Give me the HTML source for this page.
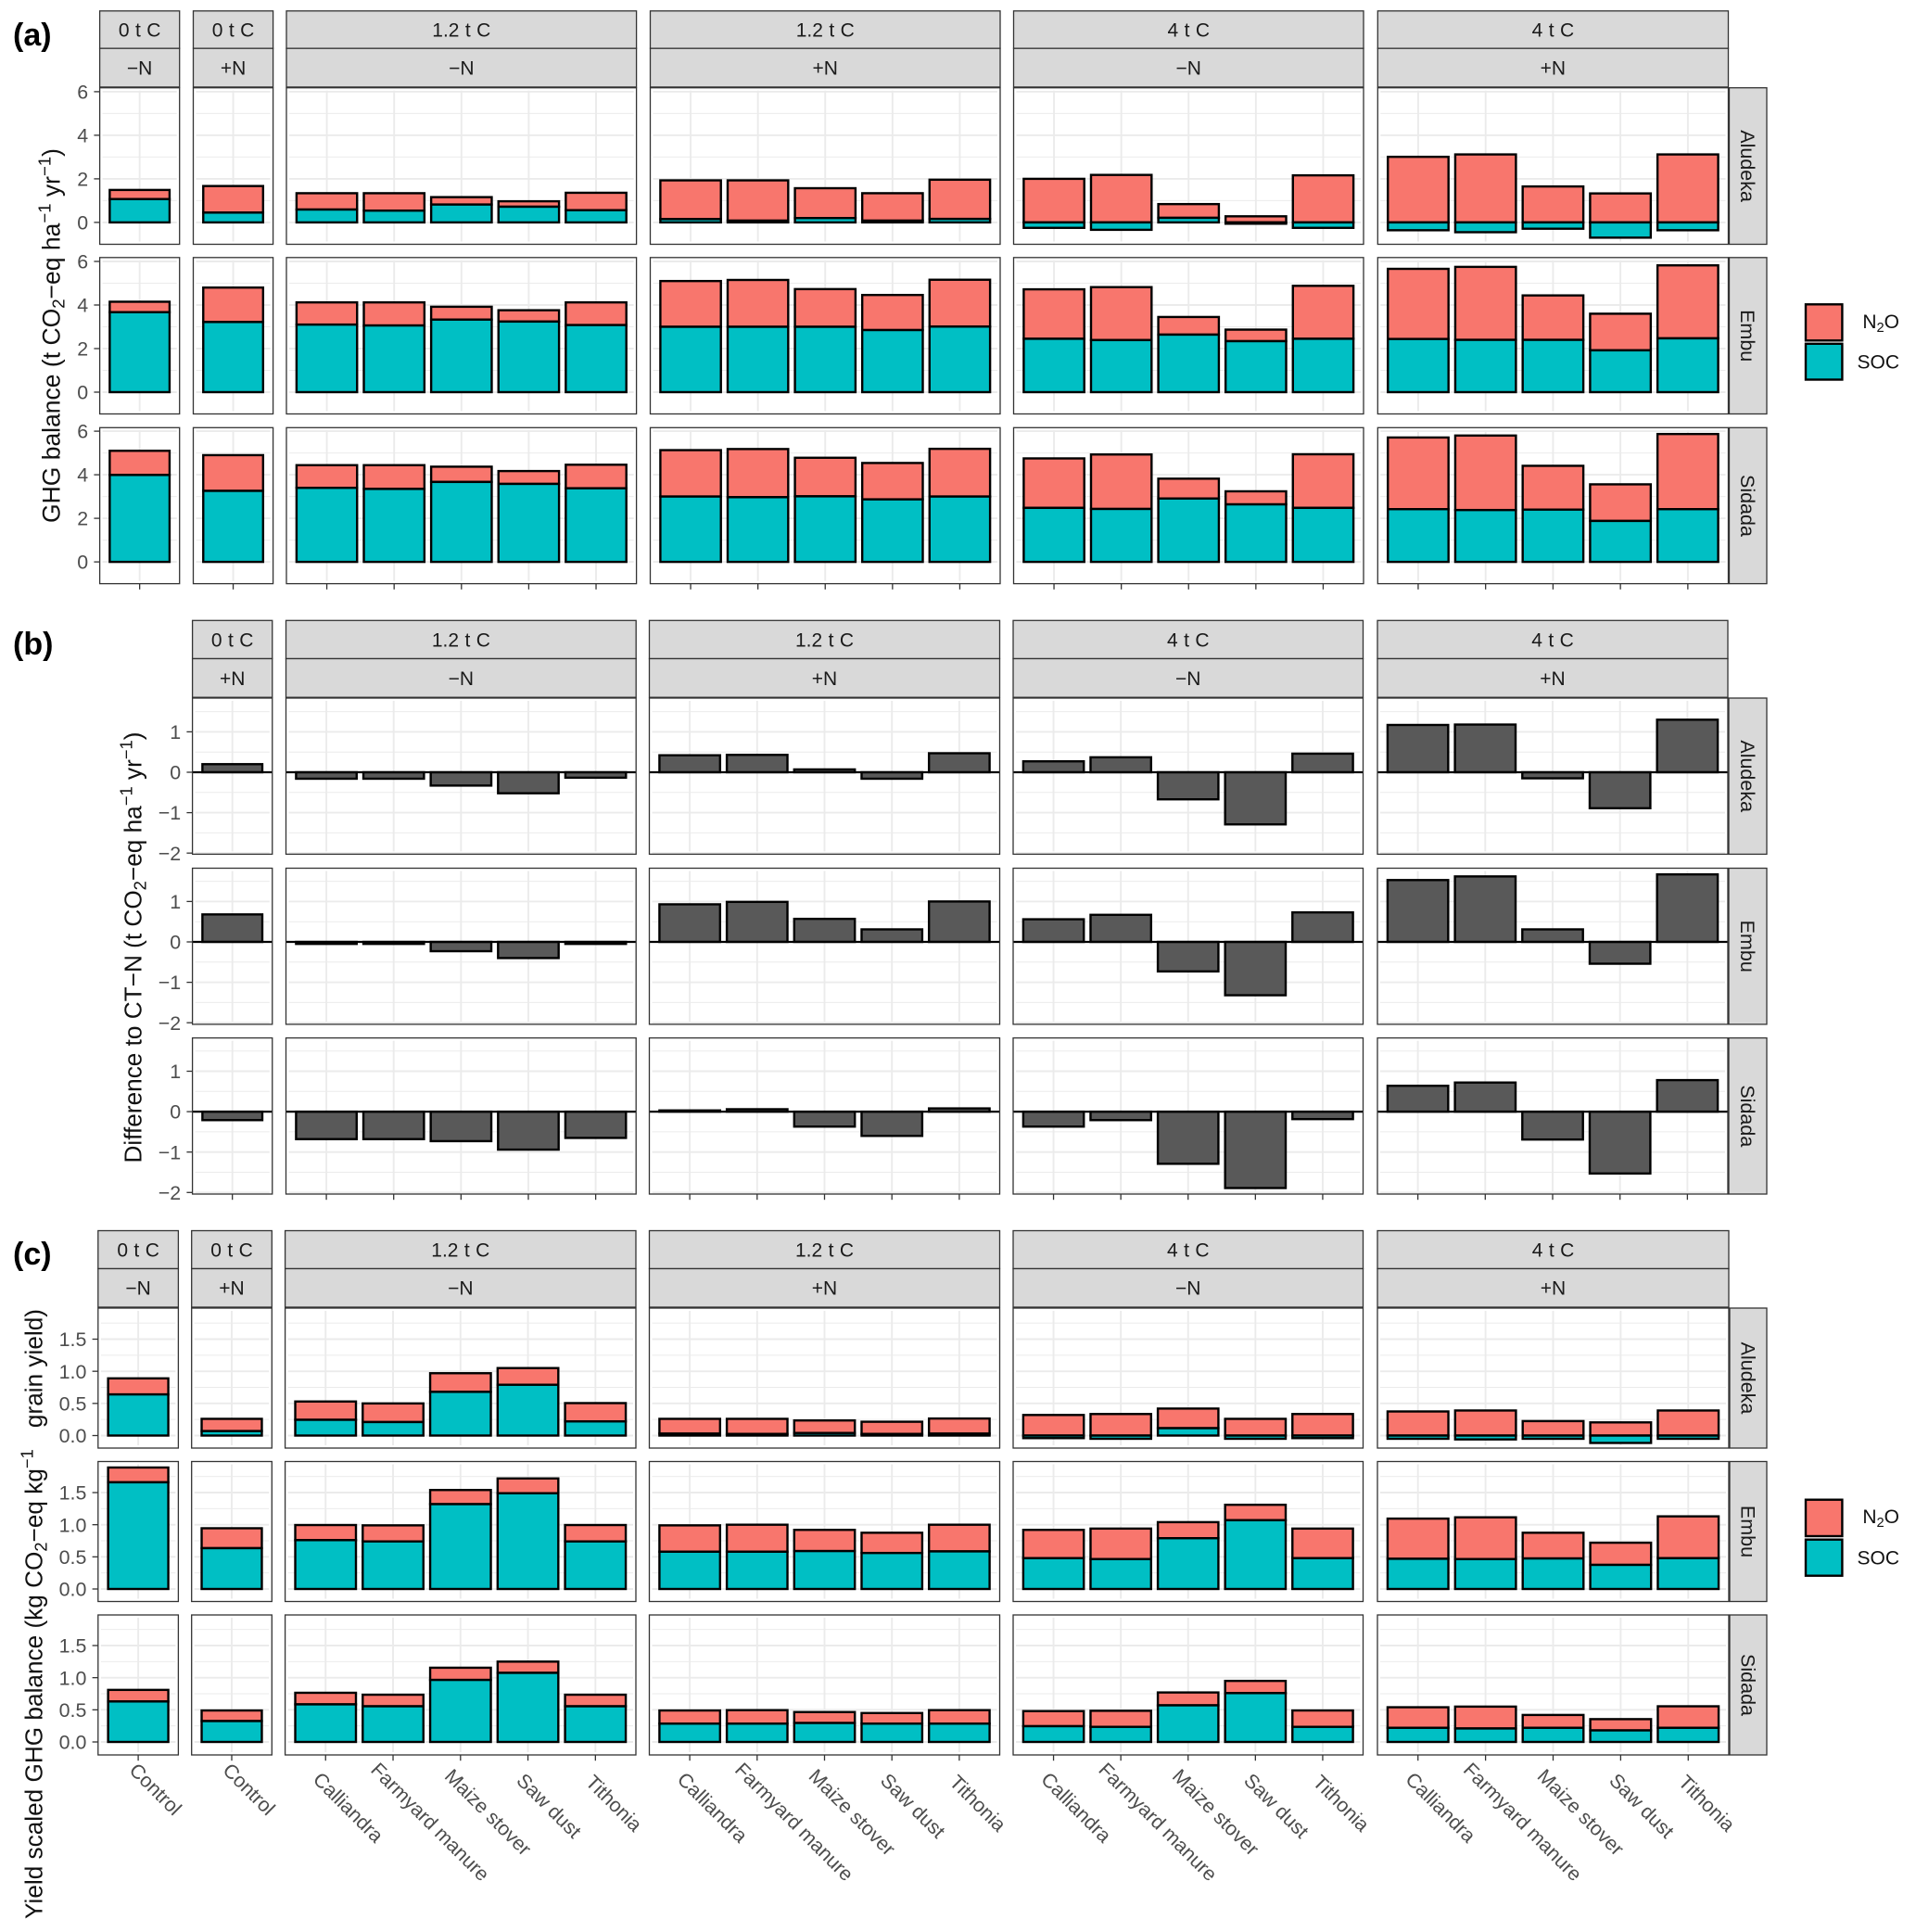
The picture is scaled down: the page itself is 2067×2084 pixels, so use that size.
<!DOCTYPE html>
<html lang="en">
<head>
<meta charset="utf-8">
<title>GHG balance by site, carbon input and nitrogen treatment</title>
<style>
html,body{margin:0;padding:0;background:#fff;}
svg{display:block;font-family:"Liberation Sans",Arial,sans-serif;}
</style>
</head>
<body>
<svg id="chart" xmlns="http://www.w3.org/2000/svg" width="2067" height="2084" viewBox="0 0 2067 2084">
  <rect x="0" y="0" width="2067" height="2084" fill="#fff"/>
  <g id="plots"></g>

  <text x="14" y="49" font-size="34" font-weight="bold" fill="#000">(a)</text>
  <text x="14" y="706" font-size="34" font-weight="bold" fill="#000">(b)</text>
  <text x="14" y="1364" font-size="34" font-weight="bold" fill="#000">(c)</text>

  <text transform="translate(64.6,362) rotate(-90)" text-anchor="middle" font-size="26.5" fill="#111">GHG balance (t CO<tspan font-size="18.6" dy="5">2</tspan><tspan dy="-5">−eq ha</tspan><tspan font-size="18.6" dy="-10">−1</tspan><tspan dy="10"> yr</tspan><tspan font-size="18.6" dy="-10">−1</tspan><tspan dy="10">)</tspan></text>
  <text transform="translate(152.5,1022) rotate(-90)" text-anchor="middle" font-size="26.2" fill="#111">Difference to CT−N (t CO<tspan font-size="18.4" dy="5">2</tspan><tspan dy="-5">−eq ha</tspan><tspan font-size="18.4" dy="-10">−1</tspan><tspan dy="10"> yr</tspan><tspan font-size="18.4" dy="-10">−1</tspan><tspan dy="10">)</tspan></text>
  <text transform="translate(45.6,2070) rotate(-90)" font-size="26.2" fill="#111">Yield scaled GHG balance (kg CO<tspan font-size="18.3" dy="5">2</tspan><tspan dy="-5">−eq kg</tspan><tspan font-size="18.3" dy="-10">−1</tspan></text>
  <text transform="translate(45.6,1412) rotate(-90)" text-anchor="end" font-size="26.2" fill="#111">grain yield)</text>

  <g>
    <rect x="1948" y="328.3" width="39.4" height="39" fill="#F8766D" stroke="#000" stroke-width="2.4"/>
    <rect x="1948" y="370.8" width="39.4" height="38.7" fill="#00BFC4" stroke="#000" stroke-width="2.4"/>
    <text x="2049" y="354" text-anchor="end" font-size="21" fill="#111">N<tspan font-size="14.7" dy="4">2</tspan><tspan dy="-4">O</tspan></text>
    <text x="2049" y="397.5" text-anchor="end" font-size="21" fill="#111">SOC</text>
  </g>
  <g>
    <rect x="1948" y="1617.7" width="39.4" height="39.3" fill="#F8766D" stroke="#000" stroke-width="2.4"/>
    <rect x="1948" y="1660.7" width="39.4" height="39" fill="#00BFC4" stroke="#000" stroke-width="2.4"/>
    <text x="2049" y="1643" text-anchor="end" font-size="21" fill="#111">N<tspan font-size="14.7" dy="4">2</tspan><tspan dy="-4">O</tspan></text>
    <text x="2049" y="1687.5" text-anchor="end" font-size="21" fill="#111">SOC</text>
  </g>
</svg>

<script>
// ---------- categories and labels ----------
const sites = ['Aludeka', 'Embu', 'Sidada'];
const carbonLevels = ['0 t C', '0 t C', '1.2 t C', '1.2 t C', '4 t C', '4 t C'];
const nitrogenLevels = ['−N', '+N', '−N', '+N', '−N', '+N'];
const controlCategories = ['Control'];
const amendmentCategories = ['Calliandra', 'Farmyard manure', 'Maize stover', 'Saw dust', 'Tithonia'];

// ---------- axis ticks ----------
const ghgTicks = [0, 2, 4, 6];
const ghgTickLabels = ['0', '2', '4', '6'];
const ghgMinorTicks = [1, 3, 5];
const diffTicks = [-2, -1, 0, 1];
const diffTickLabels = ['−2', '−1', '0', '1'];
const diffMinorTicks = [-1.5, -0.5, 0.5, 1.5];
const yieldTicks = [0, 0.5, 1, 1.5];
const yieldTickLabels = ['0.0', '0.5', '1.0', '1.5'];
const yieldMinorTicks = [0.25, 0.75, 1.25, 1.75];

// ---------- (a) GHG balance: 2 controls, then 4 groups of 5 amendments ----------
const ghgSocAludeka = [1.07,0.45, 0.59,0.54,0.82,0.72,0.56, 0.15,0.08,0.2,0.08,0.16, -0.25,-0.34,0.21,-0.06,-0.25, -0.36,-0.45,-0.29,-0.7,-0.36];
const ghgN2oAludeka = [0.42,1.22, 0.75,0.8,0.34,0.25,0.8, 1.78,1.85,1.37,1.26,1.8, 2.0,2.18,0.63,0.28,2.16, 3.01,3.12,1.65,1.33,3.12];
const ghgSocEmbu = [3.67,3.22, 3.1,3.06,3.33,3.24,3.08, 3.0,3.0,3.0,2.85,3.01, 2.45,2.39,2.64,2.34,2.45, 2.44,2.4,2.4,1.92,2.47];
const ghgN2oEmbu = [0.48,1.58, 1.02,1.06,0.59,0.52,1.04, 2.1,2.15,1.73,1.61,2.15, 2.27,2.43,0.81,0.53,2.43, 3.22,3.35,2.04,1.68,3.35];
const ghgSocSidada = [3.99,3.26, 3.4,3.35,3.67,3.58,3.38, 3.0,2.97,3.01,2.87,3.0, 2.48,2.43,2.91,2.64,2.48, 2.42,2.38,2.4,1.88,2.42];
const ghgN2oSidada = [1.11,1.64, 1.04,1.09,0.7,0.59,1.08, 2.13,2.21,1.77,1.67,2.19, 2.27,2.5,0.91,0.6,2.46, 3.29,3.42,2.01,1.68,3.45];

// ---------- (b) Difference to CT-N: 1 control, then 4 groups of 5 amendments ----------
const diffAludeka = [0.2, -0.16,-0.16,-0.33,-0.52,-0.135, 0.42,0.43,0.07,-0.16,0.47, 0.27,0.37,-0.67,-1.29,0.46, 1.17,1.18,-0.15,-0.89,1.3];
const diffEmbu = [0.68, -0.05,-0.05,-0.23,-0.4,-0.05, 0.93,0.99,0.57,0.31,1.0, 0.56,0.67,-0.73,-1.32,0.73, 1.53,1.62,0.31,-0.54,1.67];
const diffSidada = [-0.21, -0.68,-0.68,-0.73,-0.94,-0.65, 0.03,0.06,-0.37,-0.6,0.08, -0.37,-0.21,-1.29,-1.89,-0.185, 0.64,0.72,-0.69,-1.53,0.78];

// ---------- (c) Yield scaled GHG balance ----------
const yieldSocAludeka = [0.64,0.07, 0.245,0.21,0.68,0.79,0.22, 0.03,0.025,0.04,0.025,0.03, -0.04,-0.05,0.115,-0.05,-0.04, -0.05,-0.06,-0.05,-0.115,-0.05];
const yieldN2oAludeka = [0.25,0.19, 0.285,0.29,0.29,0.26,0.285, 0.23,0.235,0.195,0.19,0.235, 0.32,0.335,0.305,0.26,0.335, 0.375,0.39,0.225,0.205,0.39];
const yieldSocEmbu = [1.66,0.635, 0.76,0.74,1.32,1.49,0.74, 0.58,0.58,0.59,0.56,0.585, 0.48,0.465,0.79,1.07,0.48, 0.47,0.465,0.475,0.375,0.48];
const yieldN2oEmbu = [0.23,0.31, 0.235,0.25,0.22,0.23,0.255, 0.41,0.42,0.33,0.315,0.415, 0.44,0.475,0.25,0.24,0.46, 0.625,0.65,0.4,0.345,0.65];
const yieldSocSidada = [0.63,0.325, 0.585,0.555,0.965,1.075,0.555, 0.285,0.285,0.295,0.285,0.285, 0.245,0.235,0.57,0.76,0.235, 0.22,0.21,0.22,0.18,0.22];
const yieldN2oSidada = [0.18,0.165, 0.18,0.18,0.19,0.175,0.18, 0.205,0.21,0.17,0.165,0.21, 0.235,0.25,0.2,0.19,0.255, 0.32,0.34,0.2,0.175,0.335];

// ---------- layout ----------
const NS = 'http://www.w3.org/2000/svg';
const root = document.getElementById('plots');
const STRIP_RIGHT = 1906;

function make(tag, parent, attrs) {
  const el = document.createElementNS(NS, tag);
  for (const k in attrs) el.setAttribute(k, attrs[k]);
  parent.appendChild(el);
  return el;
}

const sectionA = {
  key: 'a',
  panelX: [[107.6,193.7],[208.5,294.6],[309,686.6],[701.5,1079],[1093.5,1471],[1486.3,1864.5]],
  firstPanel: 0,
  stripY: [11.8, 52.2, 93.9],
  rows: [{top:94.7,bottom:263.5,zero:239.9},{top:277.8,bottom:446.5,zero:423},{top:461.3,bottom:629.6,zero:606.1}],
  unit: 23.5,
  ticks: ghgTicks, tickLabels: ghgTickLabels, minor: ghgMinorTicks,
  soc: [ghgSocAludeka, ghgSocEmbu, ghgSocSidada],
  n2o: [ghgN2oAludeka, ghgN2oEmbu, ghgN2oSidada],
  single: null, xLabels: false
};
const sectionB = {
  key: 'b',
  panelX: [null,[207.6,293.75],[308.5,686.2],[700.5,1078.5],[1093,1470.5],[1486,1864]],
  firstPanel: 1,
  stripY: [669.3, 710.5, 752.2],
  rows: [{top:753,bottom:921.4,zero:833},{top:936.5,bottom:1104.9,zero:1016},{top:1119.6,bottom:1288,zero:1199.1}],
  unit: 43.6,
  ticks: diffTicks, tickLabels: diffTickLabels, minor: diffMinorTicks,
  soc: null, n2o: null,
  single: [diffAludeka, diffEmbu, diffSidada], xLabels: false
};
const sectionC = {
  key: 'c',
  panelX: [[105.8,192.4],[206.7,293.3],[307.6,686],[700.5,1078.5],[1093,1470.5],[1486,1865]],
  firstPanel: 0,
  stripY: [1327.5, 1368.5, 1410],
  rows: [{top:1411,bottom:1562,zero:1548.5},{top:1576.5,bottom:1727.5,zero:1714},{top:1742,bottom:1893,zero:1879}],
  unit: 69.33,
  ticks: yieldTicks, tickLabels: yieldTickLabels, minor: yieldMinorTicks,
  soc: [yieldSocAludeka, yieldSocEmbu, yieldSocSidada],
  n2o: [yieldN2oAludeka, yieldN2oEmbu, yieldN2oSidada],
  single: null, xLabels: true
};

function drawBar(parent, cx, width, y0, y1, fill, name) {
  const bar = make('rect', parent, {
    x: cx - width / 2, y: Math.min(y0, y1), width: width, height: Math.abs(y1 - y0),
    fill: fill, stroke: '#000', 'stroke-width': 2.4
  });
  
  
  return bar;
}

function drawSection(sec) {
  const sg = make('g', root, {});
  
  

  // facet strips
  for (let p = sec.firstPanel; p < sec.panelX.length; p++) {
    const x0 = sec.panelX[p][0], x1 = sec.panelX[p][1];
    const mid = (x0 + x1) / 2;
    const top = make('rect', sg, {x:x0, y:sec.stripY[0], width:x1-x0, height:sec.stripY[1]-sec.stripY[0], fill:'#d9d9d9', stroke:'#333', 'stroke-width':1.3});
    
    
    const low = make('rect', sg, {x:x0, y:sec.stripY[1], width:x1-x0, height:sec.stripY[2]-sec.stripY[1], fill:'#d9d9d9', stroke:'#333', 'stroke-width':1.3});
    
    
    const t1 = make('text', sg, {x:mid, y:(sec.stripY[0]+sec.stripY[1])/2+7.4, 'text-anchor':'middle', 'font-size':21, 'word-spacing':0.6, fill:'#1a1a1a'});
    
    
    t1.textContent = carbonLevels[p];
    const t2 = make('text', sg, {x:mid, y:(sec.stripY[1]+sec.stripY[2])/2+7.4, 'text-anchor':'middle', 'font-size':21, fill:'#1a1a1a'});
    
    
    t2.textContent = nitrogenLevels[p];
  }

  // rows
  sec.rows.forEach(function (row, r) {
    const yScale = function (v) { return row.zero - v * sec.unit; };
    let idx = 0;
    for (let p = sec.firstPanel; p < sec.panelX.length; p++) {
      const x0 = sec.panelX[p][0], x1 = sec.panelX[p][1];
      const cats = p < 2 ? controlCategories : amendmentCategories;
      const n = cats.length;
      const u = (x1 - x0) / (n + 0.2);
      const xScale = function (i) { return x0 + (i + 0.6) * u; };
      const barW = 0.9 * u;

      const pg = make('g', sg, {});
      
      

      const bg = make('rect', pg, {x:x0, y:row.top, width:x1-x0, height:row.bottom-row.top, fill:'#fff'});
      
      

      // grid
      sec.minor.forEach(function (v) {
        const y = yScale(v);
        if (y < row.top + 1 || y > row.bottom - 1) return;
        const l = make('line', pg, {x1:x0+3, x2:x1-3, y1:y, y2:y, stroke:'#ebebeb', 'stroke-width':1});
        
        
      });
      sec.ticks.forEach(function (v) {
        const y = yScale(v);
        const l = make('line', pg, {x1:x0+3, x2:x1-3, y1:y, y2:y, stroke:'#ebebeb', 'stroke-width':1.9});
        
        
      });
      cats.forEach(function (c, i) {
        const l = make('line', pg, {x1:xScale(i), x2:xScale(i), y1:row.top+3, y2:row.bottom-3, stroke:'#ebebeb', 'stroke-width':1.9});
        
        
      });

      // bars
      cats.forEach(function (c, i) {
        const cx = xScale(i);
        if (sec.single) {
          drawBar(pg, cx, barW, yScale(0), yScale(sec.single[r][idx]), '#595959', 'difference-bar');
        } else {
          const soc = sec.soc[r][idx];
          const n2o = sec.n2o[r][idx];
          const base = Math.max(soc, 0);
          drawBar(pg, cx, barW, yScale(base), yScale(base + n2o), '#F8766D', 'n2o-bar');
          drawBar(pg, cx, barW, yScale(0), yScale(soc), '#00BFC4', 'soc-bar');
        }
        idx++;
      });

      // zero line for difference plot
      if (sec.single) {
        const z = make('line', pg, {x1:x0, x2:x1, y1:yScale(0), y2:yScale(0), stroke:'#000', 'stroke-width':2.3});
        
        
      }

      // border
      const b = make('rect', pg, {x:x0, y:row.top, width:x1-x0, height:row.bottom-row.top, fill:'none', stroke:'#333', 'stroke-width':1.3});
      
      

      // y axis on first panel
      if (p === sec.firstPanel) {
        sec.ticks.forEach(function (v, k) {
          const y = yScale(v);
          const tk = make('line', sg, {x1:x0-6.2, x2:x0, y1:y, y2:y, stroke:'#333', 'stroke-width':1.3});
          
          
          const tl = make('text', sg, {x:x0-12.4, y:y+7.6, 'text-anchor':'end', 'font-size':21.4, fill:'#4d4d4d'});
          
          
          tl.textContent = sec.tickLabels[k];
        });
      }

      // x axis on last row
      if (r === sec.rows.length - 1) {
        cats.forEach(function (c, i) {
          const cx = xScale(i);
          const tk = make('line', sg, {x1:cx, x2:cx, y1:row.bottom, y2:row.bottom+6.2, stroke:'#333', 'stroke-width':1.3});
          
          
          if (sec.xLabels) {
            const tl = make('text', sg, {'text-anchor':'middle', 'font-size':21.4, fill:'#4d4d4d', dy:'0.35em'});
            
            
            tl.textContent = c;
            const L = tl.getComputedTextLength();
            const shift = 0.212 * L;
            const ax = cx + 4.2 + shift;
            const ay = row.bottom + (n === 1 ? 22.2 : 36) + shift;
            tl.setAttribute('transform', 'translate(' + ax + ',' + ay + ') rotate(45)');
          }
        });
      }
    }

    // right-hand site strip
    const xr = sec.panelX[5][1] + 1;
    const st = make('rect', sg, {x:xr, y:row.top, width:STRIP_RIGHT-xr, height:row.bottom-row.top, fill:'#d9d9d9', stroke:'#333', 'stroke-width':1.3});
    
    
    const mid = (row.top + row.bottom) / 2;
    const tx = make('text', sg, {'text-anchor':'middle', 'font-size':21.5, fill:'#1a1a1a', transform:'translate(' + ((xr+STRIP_RIGHT)/2 - 7.6) + ',' + mid + ') rotate(90)'});
    
    
    tx.textContent = sites[r];
  });
}

drawSection(sectionA);
drawSection(sectionB);
drawSection(sectionC);
</script>
</body>
</html>
